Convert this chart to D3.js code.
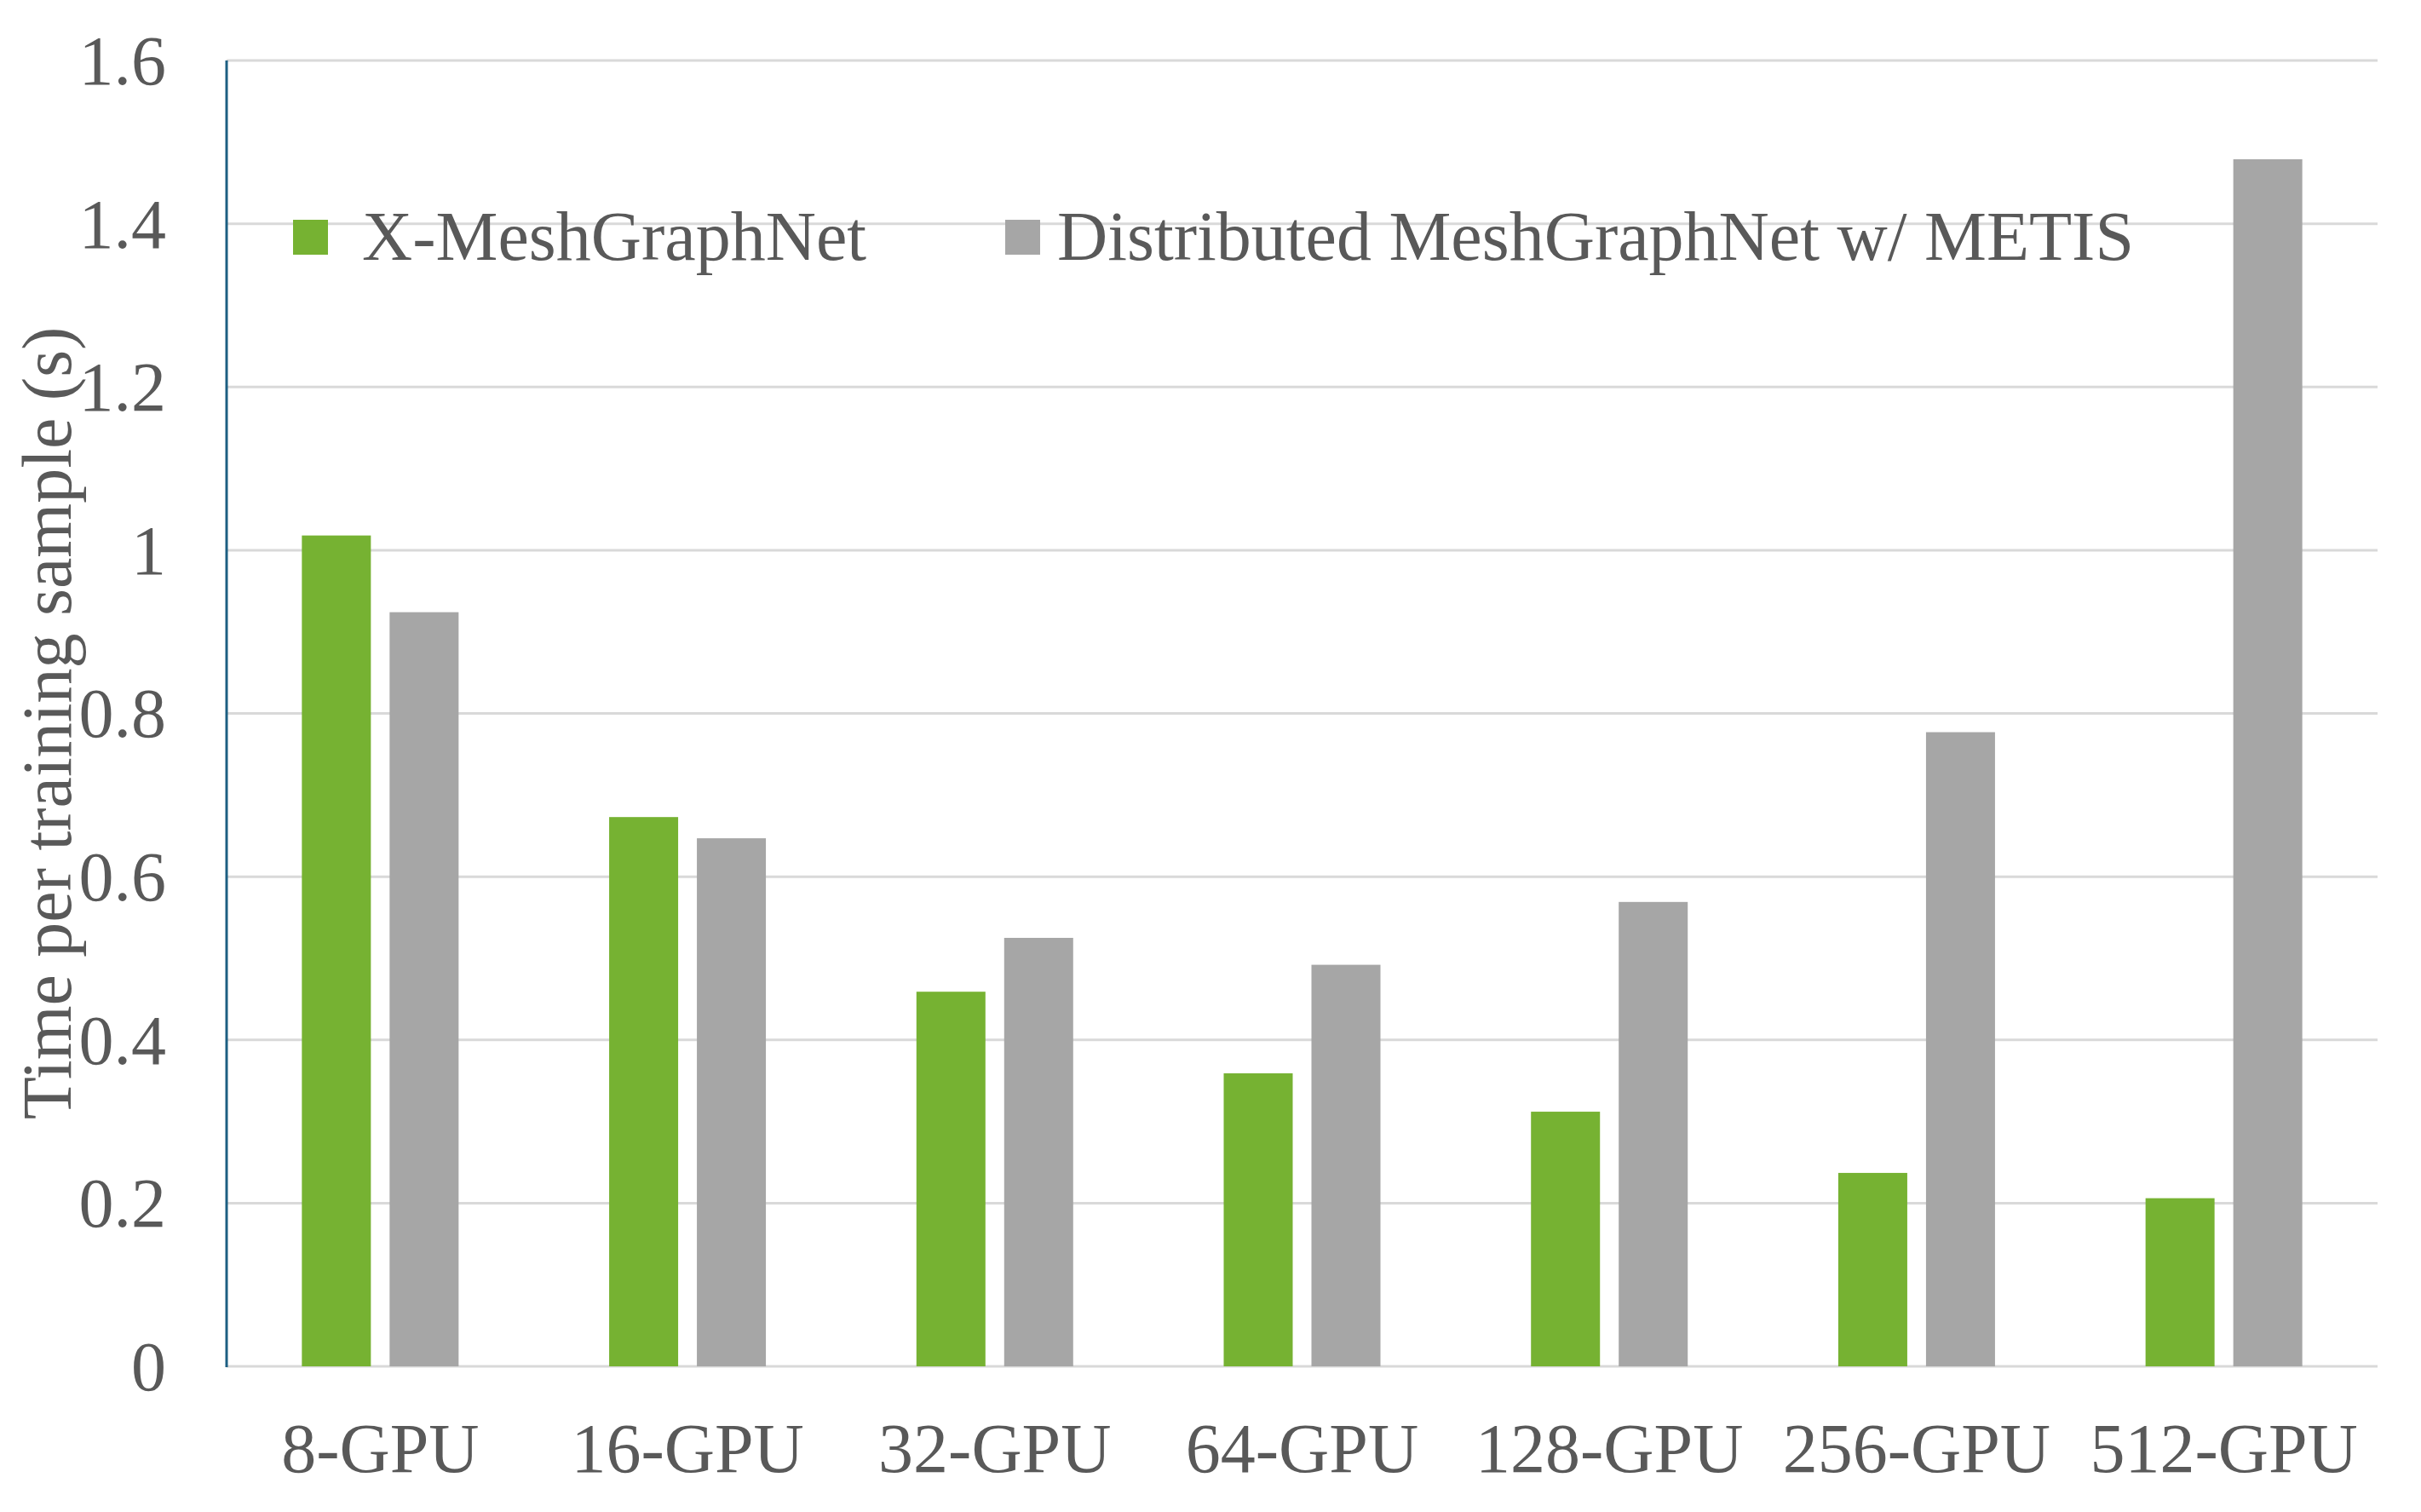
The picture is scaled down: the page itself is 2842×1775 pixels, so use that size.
<!DOCTYPE html>
<html>
<head>
<meta charset="utf-8">
<script src="https://cdn.jsdelivr.net/npm/d3@7"></script>
<style>
  html, body { margin: 0; padding: 0; background: #ffffff; }
  svg { display: block; }
</style>
</head>
<body>
<script>
const categories = ["8-GPU", "16-GPU", "32-GPU", "64-GPU", "128-GPU", "256-GPU", "512-GPU"];
const seriesNames = ["X-MeshGraphNet", "Distributed MeshGraphNet w/ METIS"];
const xMeshGraphNet = [1.018, 0.673, 0.459, 0.359, 0.312, 0.237, 0.206];
const distributedMETIS = [0.924, 0.647, 0.525, 0.492, 0.569, 0.777, 1.479];
const yTicks = [0, 0.2, 0.4, 0.6, 0.8, 1, 1.2, 1.4, 1.6];
const yTitle = "Time per training sample (s)";
const colors = ["#76b232", "#a6a6a6"];

(function () {
const W = 2842, H = 1775;
const pLeft = 266, pRight = 2791, pTop = 71, pBottom = 1604;
const font = "'Liberation Serif', 'Times New Roman', serif";
const textColor = "#595959";
const fs = 82;

const svg = d3.select("body").append("svg").attr("width", W).attr("height", H);

const y = d3.scaleLinear().domain([0, 1.6]).range([pBottom, pTop]);
const x0 = d3.scaleBand().domain(categories).range([pLeft, pRight]).paddingInner(0).paddingOuter(0);
const x1 = d3.scaleBand().domain([0, 1]).range([-92, 92]).paddingInner(0.2136).paddingOuter(0);

// gridlines
svg.append("g").selectAll("line").data(yTicks).join("line")
  .attr("x1", pLeft).attr("x2", pRight)
  .attr("y1", d => y(d)).attr("y2", d => y(d))
  .attr("stroke", "#d9d9d9").attr("stroke-width", 3);

// bars
const data = categories.map((c, i) => ({ c, vals: [xMeshGraphNet[i], distributedMETIS[i]] }));
const groups = svg.append("g").selectAll("g").data(data).join("g")
  .attr("transform", d => `translate(${x0(d.c) + x0.bandwidth() / 2},0)`);
groups.selectAll("rect").data(d => d.vals.map((v, k) => ({ v, k }))).join("rect")
  .attr("x", d => x1(d.k))
  .attr("width", x1.bandwidth())
  .attr("y", d => y(d.v))
  .attr("height", d => y(0) - y(d.v))
  .attr("fill", d => colors[d.k]);

// y axis line
svg.append("line")
  .attr("x1", pLeft).attr("x2", pLeft)
  .attr("y1", pTop).attr("y2", pBottom + 1)
  .attr("stroke", "#1d5f82").attr("stroke-width", 3);

// y tick labels
svg.append("g").selectAll("text").data(yTicks).join("text")
  .attr("x", 195).attr("y", d => y(d)).attr("dy", "0.34em")
  .attr("text-anchor", "end")
  .attr("font-family", font).attr("font-size", fs).attr("fill", textColor)
  .text(d => String(+d.toFixed(1)));

// x labels
svg.append("g").selectAll("text").data(categories).join("text")
  .attr("x", d => x0(d) + x0.bandwidth() / 2).attr("y", 1728)
  .attr("text-anchor", "middle")
  .attr("font-family", font).attr("font-size", fs).attr("fill", textColor)
  .text(d => d);

// y title
svg.append("text")
  .attr("transform", "translate(83,849) rotate(-90)")
  .attr("text-anchor", "middle")
  .attr("font-family", font).attr("font-size", fs).attr("fill", textColor)
  .text(yTitle);

// legend
const legendItems = [
  { name: seriesNames[0], color: colors[0], sx: 344, tx: 425 },
  { name: seriesNames[1], color: colors[1], sx: 1180, tx: 1241 }
];
const lg = svg.append("g");
legendItems.forEach(it => {
  lg.append("rect").attr("x", it.sx).attr("y", 258).attr("width", 41).attr("height", 41).attr("fill", it.color);
  lg.append("text").attr("x", it.tx).attr("y", 305)
    .attr("font-family", font).attr("font-size", fs).attr("fill", textColor)
    .text(it.name);
});
})();
</script>
</body>
</html>
